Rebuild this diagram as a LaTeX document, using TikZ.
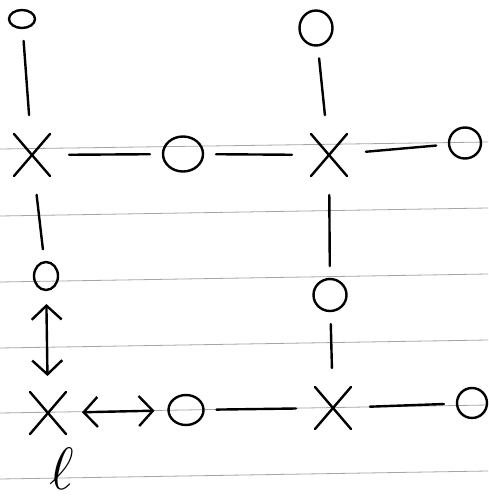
\documentclass[tikz,border=0pt]{standalone}
\usetikzlibrary{shapes.misc,shapes.geometric,arrows.meta}
\begin{document}
\begin{tikzpicture}[x=1pt,y=-1pt,
  rule/.style={gray!70, line width=0.8pt},
  pen/.style={line width=2.4pt, line cap=round},
  vtx/.style={draw, cross out, pen, minimum width=36pt, minimum height=42pt, inner sep=0pt, outer sep=0pt},
  lp/.style={draw, ellipse, pen, inner sep=0pt, outer sep=0pt},
  xc/.style={pen, shorten <=19pt, shorten >=13pt},
  cx/.style={pen, shorten <=13pt, shorten >=19pt},
  dbl/.style={pen, {Straight Barb[length=14pt,width=30pt]}-{Straight Barb[length=14pt,width=30pt]}}
]
\fill[white] (0,0) rectangle (488,501);
\useasboundingbox (0,0) rectangle (488,501);
% ruled paper lines
\draw[rule] (0,149) -- (488,142);
\draw[rule] (0,216) -- (488,208);
\draw[rule] (0,282) -- (488,274);
\draw[rule] (0,348) -- (488,340);
\draw[rule] (0,413) -- (488,405);
\draw[rule] (0,479) -- (488,471);
% vertices
\node[vtx] (x1) at (32,155) {};
\node[vtx] (x2) at (329,155) {};
\node[vtx] (x3) at (48,413) {};
\node[vtx] (x4) at (333,408) {};
% loops
\node[lp, minimum width=26pt, minimum height=18pt] (tl) at (22,19) {};
\node[lp, minimum width=40pt, minimum height=35pt] (c1) at (183,154) {};
\node[lp, minimum width=32pt, minimum height=31pt] (r1) at (465,143) {};
\node[lp, minimum width=33pt, minimum height=35pt] (tr) at (316,28) {};
\node[lp, minimum width=24pt, minimum height=28pt] (cl) at (46,276) {};
\node[lp, minimum width=33pt, minimum height=32pt] (cm) at (330,295) {};
\node[lp, minimum width=35pt, minimum height=30pt] (c3) at (186,410) {};
\node[lp, minimum width=30pt, minimum height=30pt] (r2) at (472,403) {};
% label
\node[inner sep=0pt] (ell) at (62,469) {\scalebox{2.4}{\Huge$\ell$}};
% connectors
\draw[cx] (tl) -- (x1);
\draw[xc] (x1) -- (c1);
\draw[cx] (c1) -- (x2);
\draw[xc] (x2) -- (r1);
\draw[cx] (tr) -- (x2);
\draw[xc] (x1) -- (cl);
\draw[xc] (x2) -- (cm);
\draw[cx] (cm) -- (x4);
\draw[cx] (c3) -- (x4);
\draw[xc] (x4) -- (r2);
\draw[dbl, shorten <=14pt, shorten >=16pt] (cl) -- (x3);
\draw[dbl, shorten <=16pt, shorten >=14pt] (x3) -- (c3);
\end{tikzpicture}
\end{document}
